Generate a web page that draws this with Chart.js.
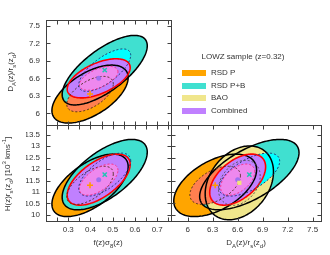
<!DOCTYPE html>
<html><head><meta charset="utf-8">
<script src="https://cdn.jsdelivr.net/npm/chart.js@4.4.1/dist/chart.umd.min.js"></script>
<style>
html,body{margin:0;padding:0;background:#fff;}
body{width:330px;height:255px;position:relative;overflow:hidden;font-family:"Liberation Sans",Arial,sans-serif;color:#333;}
canvas{position:absolute;left:0;top:0;width:330px;height:255px;}
.lbl{position:absolute;font-size:8px;white-space:nowrap;line-height:1;}
.lbl sub,.lbl sup{font-size:6px;line-height:0;}
.rot{transform:translate(-50%,-50%) rotate(-90deg);}
.ctr{transform:translate(-50%,-50%);}
.key{position:absolute;width:24px;height:6px;}
</style></head><body>
<canvas id="cTL" width="330" height="255"></canvas>
<canvas id="cBL" width="330" height="255"></canvas>
<canvas id="cBR" width="330" height="255"></canvas>
<div id="txt"></div>
<script>
// ---------------- data ----------------
const seriesNames = ['RSD P', 'RSD P+B', 'BAO', 'Combined'];
const legendTitle = 'LOWZ sample (z=0.32)';
// parameter order: [f(z)sigma8(z), DA(z)/rs(zd), H(z)rs(zd)]
// correlation order: [f-DA, f-H, DA-H]
const rsdP_centre  = [0.398, 6.33, 11.29];
const rsdP_sigma   = [0.069, 0.20, 0.55];
const rsdP_corr    = [0.57, 0.60, 0.50];
const rsdPB_centre = [0.464, 6.74, 11.76];
const rsdPB_sigma  = [0.077, 0.24, 0.62];
const rsdPB_corr   = [0.70, 0.64, 0.62];
const bao_centre   = [null, 6.62, 11.40];
const bao_sigma    = [null, 0.165, 0.65];
const bao_corr     = [null, null, 0.30];
const comb_centre  = [0.437, 6.60, 11.54];
const comb_sigma   = [0.057, 0.135, 0.45];
const comb_corr    = [0.55, 0.60, 0.50];
const deltaChi2 = [2.30, 6.17];   // 68% and 95% contours

const fsTickLabels = [0.3, 0.4, 0.5, 0.6, 0.7];
const fsTickMarks  = [0.25, 0.3, 0.35, 0.4, 0.45, 0.5, 0.55, 0.6, 0.65, 0.7, 0.75];
const daTickLabels = [6, 6.3, 6.6, 6.9, 7.2, 7.5];
const hTickLabels  = [10, 10.5, 11, 11.5, 12, 12.5, 13, 13.5];
const fsRange = [0.2, 0.762];
const daRange = [5.8, 7.6];
const hRange  = [9.73, 13.93];

// ---------------- styles ----------------
const series = [
  {centre: rsdP_centre,  sigma: rsdP_sigma,  corr: rsdP_corr},
  {centre: rsdPB_centre, sigma: rsdPB_sigma, corr: rsdPB_corr},
  {centre: bao_centre,   sigma: bao_sigma,   corr: bao_corr},
  {centre: comb_centre,  sigma: comb_sigma,  corr: comb_corr}
];
const styles = [
  {fill2:'#FFA500', fill1:'#FF7F50', line2:'#000000', line1:'#4a2a1a', lw2:1.5, marker:'cross',    mcol:'#FF9A00', order:1},
  {fill2:'#40E0D0', fill1:'#00FFFF', line2:'#000000', line1:'#1b3070', lw2:1.5, marker:'crossRot', mcol:'#22C4B4', order:2},
  {fill2:'#F0E68C', fill1:'#EEDC82', line2:'#000000', line1:'#555555', lw2:1.5, marker:'rect',     mcol:'#F2E27A', order:0},
  {fill2:'#C080FF', fill1:'#EE88EE', line2:'#FF0000', line1:'#FF2A7A', lw2:1.6, marker:'circle',   mcol:'#A070F0', order:3}
];
const axisColor = '#404040';
const fontSpec = {family:'"Liberation Sans", Arial, sans-serif', size:8};

const ranges = [fsRange, daRange, hRange];
const labelSets = [fsTickLabels, daTickLabels, hTickLabels];
const markSets = [fsTickMarks, daTickLabels, hTickLabels];
const corrIndex = (i, j) => (i === 0 && j === 1) ? 0 : (i === 0 && j === 2) ? 1 : 2;
const fmt = v => String(Math.round(v * 10) / 10);

function ellipsePath(ctx, xs, ys, s, xi, yi, k) {
  const mx = s.centre[xi], my = s.centre[yi], sx = s.sigma[xi], sy = s.sigma[yi];
  const r = s.corr[corrIndex(xi, yi)], c = Math.sqrt(k), q = Math.sqrt(1 - r * r);
  const n = 160;
  ctx.beginPath();
  for (let i = 0; i <= n; i++) {
    const t = i / n * 2 * Math.PI;
    const vx = mx + c * sx * Math.cos(t);
    const vy = my + c * sy * (r * Math.cos(t) + q * Math.sin(t));
    const px = xs.getPixelForValue(vx), py = ys.getPixelForValue(vy);
    if (i) ctx.lineTo(px, py); else ctx.moveTo(px, py);
  }
  ctx.closePath();
}

const ellPlugin = {
  id: 'ell',
  beforeDatasetsDraw(chart, args, o) {
    const {ctx, chartArea: a} = chart;
    const xs = chart.scales.x, ys = chart.scales.y;
    ctx.save();
    ctx.beginPath(); ctx.rect(a.left, a.top, a.right - a.left, a.bottom - a.top); ctx.clip();
    const idx = [0, 1, 2, 3].filter(k => series[k].centre[o.xi] != null && series[k].centre[o.yi] != null);
    const others = idx.filter(k => k !== 3), comb = idx.filter(k => k === 3);
    const fillE = (k, lev, col) => { ellipsePath(ctx, xs, ys, series[k], o.xi, o.yi, deltaChi2[lev]); ctx.fillStyle = col; ctx.fill(); };
    others.forEach(k => fillE(k, 1, styles[k].fill2));
    others.forEach(k => fillE(k, 0, styles[k].fill1));
    comb.forEach(k => { fillE(k, 1, styles[k].fill2); fillE(k, 0, styles[k].fill1); });
    idx.forEach(k => {
      ellipsePath(ctx, xs, ys, series[k], o.xi, o.yi, deltaChi2[1]);
      ctx.setLineDash([]); ctx.lineWidth = styles[k].lw2; ctx.strokeStyle = styles[k].line2; ctx.stroke();
    });
    idx.forEach(k => {
      ellipsePath(ctx, xs, ys, series[k], o.xi, o.yi, deltaChi2[0]);
      ctx.setLineDash([2, 2]); ctx.lineWidth = 1; ctx.strokeStyle = styles[k].line1; ctx.stroke();
    });
    ctx.restore();
  },
  afterDraw(chart, args, o) {
    const {ctx, chartArea: a} = chart;
    const xs = chart.scales.x, ys = chart.scales.y;
    const L = Math.floor(a.left) + 0.5, R = Math.floor(a.right) + 0.5, T = Math.floor(a.top) + 0.5, B = Math.floor(a.bottom) + 0.5;
    ctx.save();
    ctx.strokeStyle = axisColor; ctx.lineWidth = 1; ctx.setLineDash([]);
    ctx.strokeRect(L, T, R - L, B - T);
    ctx.beginPath();
    const tl = 4;
    markSets[o.xi].forEach(v => {
      const p = Math.round(xs.getPixelForValue(v)) + 0.5;
      if (p <= L || p >= R) return;
      ctx.moveTo(p, B); ctx.lineTo(p, B - tl);
      ctx.moveTo(p, T); ctx.lineTo(p, T + tl);
    });
    markSets[o.yi].forEach(v => {
      const p = Math.round(ys.getPixelForValue(v)) + 0.5;
      if (p <= T || p >= B) return;
      ctx.moveTo(L, p); ctx.lineTo(L + tl, p);
      ctx.moveTo(R, p); ctx.lineTo(R - tl, p);
    });
    ctx.stroke();
    ctx.restore();
  }
};

function makeChart(id, xi, yi, pad, showX, showY) {
  const datasets = [0, 1, 2, 3]
    .filter(k => series[k].centre[xi] != null && series[k].centre[yi] != null)
    .map(k => ({
      label: seriesNames[k],
      data: [{x: series[k].centre[xi], y: series[k].centre[yi]}],
      pointStyle: styles[k].marker,
      pointRadius: styles[k].marker === 'circle' ? 2.5 : 3,
      pointBorderWidth: styles[k].marker === 'circle' || styles[k].marker === 'rect' ? 0 : 1.5,
      borderColor: styles[k].mcol,
      backgroundColor: styles[k].mcol,
      order: styles[k].order
    }));
  return new Chart(document.getElementById(id), {
    type: 'scatter',
    data: {datasets},
    options: {
      responsive: false, animation: false, devicePixelRatio: 1, events: [],
      layout: {padding: pad, autoPadding: false},
      plugins: {legend: {display: false}, tooltip: {enabled: false}, ell: {xi, yi}},
      scales: {
        x: {
          type: 'linear', min: ranges[xi][0], max: ranges[xi][1],
          grid: {display: false, drawTicks: false}, border: {display: false},
          afterBuildTicks: s => { s.ticks = labelSets[xi].map(v => ({value: v})); },
          ticks: {display: showX, font: fontSpec, color: '#333', padding: 4, callback: fmt, autoSkip: false, maxRotation: 0},
          afterFit: s => { s.height = showX ? 20 : 0; }
        },
        y: {
          type: 'linear', min: ranges[yi][0], max: ranges[yi][1],
          grid: {display: false, drawTicks: false}, border: {display: false},
          afterBuildTicks: s => { s.ticks = labelSets[yi].map(v => ({value: v})); },
          ticks: {display: showY, font: fontSpec, color: '#333', padding: 6, callback: fmt, autoSkip: false},
          afterFit: s => { s.width = showY ? 20 : 0; }
        }
      }
    },
    plugins: [ellPlugin]
  });
}

makeChart('cTL', 0, 1, {left: 26, right: 159, top: 20, bottom: 130}, false, true);
makeChart('cBL', 0, 2, {left: 26, right: 159, top: 125, bottom: 14}, true, true);
makeChart('cBR', 1, 2, {left: 171, right: 9, top: 125, bottom: 14}, true, false);

// ---------------- text (titles + legend) ----------------
const txt = document.getElementById('txt');
function addText(html, x, y, cls) {
  const d = document.createElement('div');
  d.className = 'lbl ' + cls; d.innerHTML = html;
  d.style.left = x + 'px'; d.style.top = y + 'px';
  txt.appendChild(d);
}
const daTitle = 'D<sub>A</sub>(z)/r<sub>s</sub>(z<sub>d</sub>)';
addText(daTitle, 11, 72, 'rot');
addText('H(z)r<sub>s</sub>(z<sub>d</sub>) [10<sup>3</sup> kms<sup>-1</sup>]', 8, 174, 'rot');
addText('f(z)σ<sub>8</sub>(z)', 108, 243, 'ctr');
addText(daTitle, 246, 243, 'ctr');
addText(legendTitle, 243, 57, 'ctr');
const legendFill = styles.map(s => s.fill2);
seriesNames.forEach((name, k) => {
  const y = 73 + k * 12.7;
  const b = document.createElement('div');
  b.className = 'key'; b.style.left = '182px'; b.style.top = (y - 3) + 'px';
  b.style.background = legendFill[k];
  txt.appendChild(b);
  const t = document.createElement('div');
  t.className = 'lbl'; t.textContent = name;
  t.style.left = '211px'; t.style.top = (y - 4) + 'px';
  txt.appendChild(t);
});
</script>
</body></html>
